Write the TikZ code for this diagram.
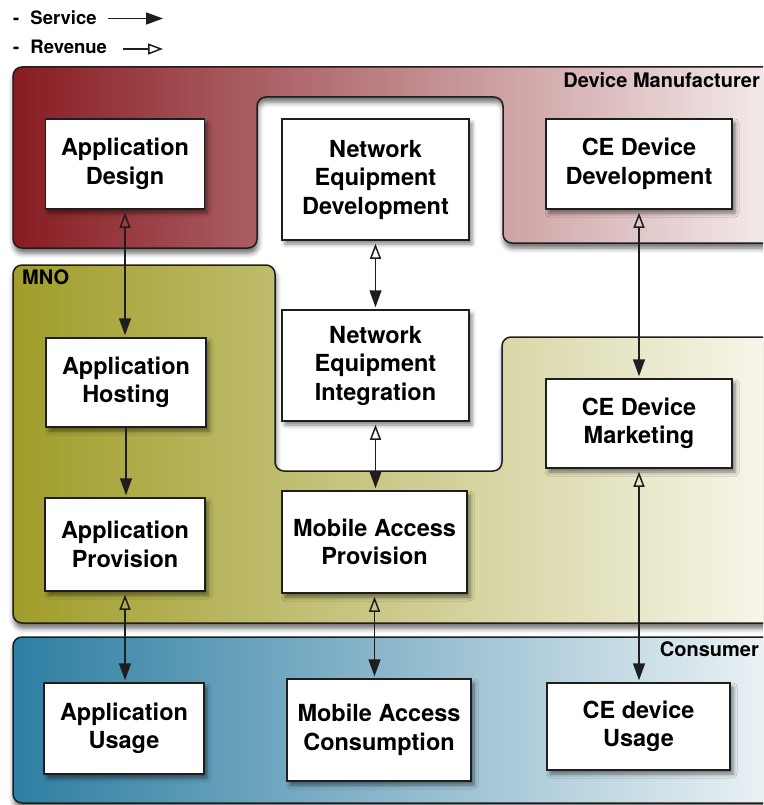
\documentclass[tikz,border=0pt]{standalone}
\usepackage{fontspec}
\setmainfont{TeX Gyre Heros}
\usetikzlibrary{arrows.meta,shadows.blur}

\definecolor{dmDark}{RGB}{135,28,34}
\definecolor{dmLight}{RGB}{247,240,240}
\definecolor{mnoDark}{RGB}{160,157,42}
\definecolor{mnoLight}{RGB}{250,249,240}
\definecolor{conDark}{RGB}{46,126,163}
\definecolor{conLight}{RGB}{240,245,247}
\definecolor{edge}{RGB}{30,30,30}

\tikzset{
  region/.style={draw=edge, line width=1.5pt, rounded corners=9pt,
    blur shadow={shadow xshift=1pt, shadow yshift=-5pt,
                 shadow blur radius=5pt, shadow opacity=60}},
  stage/.style={draw=edge, line width=1.5pt, fill=white, align=center,
    inner sep=0pt, font=\fontsize{23.5}{28.5}\selectfont\bfseries,
    blur shadow={shadow xshift=3pt, shadow yshift=-4pt,
                 shadow blur radius=4pt, shadow opacity=50}},
  grouplabel/.style={inner sep=0pt, font=\fontsize{20}{22}\selectfont\bfseries},
  legendtext/.style={inner sep=0pt, font=\fontsize{18.5}{22}\selectfont\bfseries},
  svctip/.tip={Triangle[width=12pt,length=17pt]},
  revtip/.tip={Triangle[open,width=11pt,length=15pt]},
  flow/.style={draw=edge, line width=1.5pt, revtip-svctip,
    shorten <=3pt, shorten >=2pt},
  svcflow/.style={draw=edge, line width=1.5pt, -svctip, shorten >=2pt},
}

\begin{document}
\begin{tikzpicture}[x=1pt,y=-1pt]
\useasboundingbox (0,0) rectangle (763,805);
\clip (0,0) rectangle (763,805);

% ---- stakeholder regions ----
\path[region, left color=dmDark, right color=dmLight]
  (13,67) -- (790,67) -- (790,243) -- (503,243) -- (503,97)
  -- (257,97) -- (257,248) -- (13,248) -- cycle;
\path[region, left color=mnoDark, right color=mnoLight]
  (13,265) -- (275,265) -- (275,471) -- (502,471) -- (502,337)
  -- (790,337) -- (790,623) -- (13,623) -- cycle;
\path[region, left color=conDark, right color=conLight]
  (13,637) rectangle (790,803);

\node[grouplabel, anchor=base east] (lblDM) at (760,88) {Device Manufacturer};
\node[grouplabel, anchor=base west] (lblMNO) at (22,284) {MNO};
\node[grouplabel, anchor=base east] (lblCon) at (759,656) {Consumer};

% ---- value chain stages ----
\node[stage, minimum width=159pt, minimum height=90pt]  (appdes)  at (125,164)   {Application\\Design};
\node[stage, minimum width=187pt, minimum height=121pt] (ned)     at (375.5,179.5) {Network\\Equipment\\Development};
\node[stage, minimum width=186pt, minimum height=90pt]  (cedev)   at (639,164)   {CE Device\\Development};

\node[stage, minimum width=160pt, minimum height=89pt]  (apphost) at (126,382.5) {Application\\Hosting};
\node[stage, minimum width=187pt, minimum height=111pt] (nei)     at (375.5,365.5) {Network\\Equipment\\Integration};
\node[stage, minimum width=186pt, minimum height=89pt]  (cemkt)   at (639,423.5) {CE Device\\Marketing};

\node[stage, minimum width=160pt, minimum height=93pt]  (appprov) at (125,544.5) {Application\\Provision};
\node[stage, minimum width=185pt, minimum height=102pt] (map)     at (374.5,542) {Mobile Access\\Provision};

\node[stage, minimum width=160pt, minimum height=91pt]  (appuse)  at (124,728.5) {Application\\Usage};
\node[stage, minimum width=184pt, minimum height=102pt] (mac)     at (379,730)   {Mobile Access\\Consumption};
\node[stage, minimum width=183pt, minimum height=87pt]  (ceuse)   at (638.5,726.5) {CE device\\Usage};

% ---- service / revenue flows ----
\draw[flow]    (appdes.south)  -- (appdes.south |- apphost.north);
\draw[svcflow] (apphost.south) -- (apphost.south |- appprov.north);
\draw[flow]    (appprov.south) -- (appprov.south |- appuse.north);

\draw[flow] (ned.south) -- (ned.south |- nei.north);
\draw[flow] (nei.south) -- (nei.south |- map.north);
\draw[flow] (map.south) -- (map.south |- mac.north);

\draw[flow] (cedev.south) -- (cedev.south |- cemkt.north);
\draw[flow] (cemkt.south) -- (cemkt.south |- ceuse.north);

% ---- legend ----
\node[legendtext, anchor=base west] (legSvc) at (13,25) {-\hspace{0.6em}Service};
\node[legendtext, anchor=base west] (legRev) at (13,54) {-\hspace{0.6em}Revenue};
\coordinate (svcA) at (108,18.5);
\coordinate (svcB) at (163,18.5);
\coordinate (revA) at (123,49);
\coordinate (revB) at (163,49);
\draw[draw=edge, line width=1.5pt, -svctip] (svcA) -- (svcB);
\draw[draw=edge, line width=1.5pt, -revtip] (revA) -- (revB);
\end{tikzpicture}
\end{document}
